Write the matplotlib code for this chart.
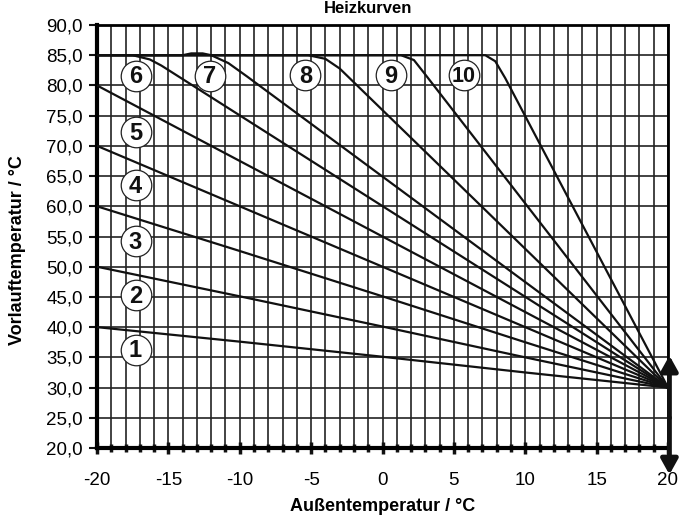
import matplotlib.pyplot as plt

plt.rcParams['font.family'] = ['Liberation Sans', 'DejaVu Sans']

# heating curves (outdoor temp -> flow temp)
curves_x = [
    [-20, -10, 0, 10, 20],
    [-20, -10, 0, 10, 20],
    [-20, -10, 0, 10, 20],
    [-20, -10, 0, 10, 20],
    [-20, -10, 0, 10, 20],
    [-20, -17.5, -16.3, -15.5, 20],
    [-20, -14.0, -13.4, -12.6, -12.0, -10.8, -9.5, 20],
    [-20, -5.2, -4.0, -3.0, 20],
    [-20, 1.3, 2.2, 3.0, 20],
    [-20, 7.2, 7.9, 8.6, 20],
]
curves_y = [
    [40, 37.6, 35.1, 32.5, 30],
    [50, 45.1, 40.1, 35.0, 30],
    [60, 52.6, 45.1, 37.5, 30],
    [70, 60.0, 50.0, 40.0, 30],
    [80, 67.5, 55.0, 42.5, 30],
    [85, 85, 84.3, 83.3, 30],
    [85, 85, 85.3, 85.3, 85, 83.7, 81.5, 30],
    [85, 85, 84.4, 82.8, 30],
    [85, 85, 84.2, 81.8, 30],
    [85, 85, 84.0, 81.2, 30],
]

# circled curve numbers
label_text = ['1', '2', '3', '4', '5', '6', '7', '8', '9', '10']
label_x = [-17.3, -17.3, -17.3, -17.3, -17.3, -17.3, -12.1, -5.4, 0.6, 5.7]
label_y = [36.3, 45.3, 54.2, 63.5, 72.3, 81.6, 81.6, 81.7, 81.7, 81.7]
label_size = [17, 17, 17, 17, 17, 17, 17, 17, 17, 15.5]

x_ticks = [-20, -15, -10, -5, 0, 5, 10, 15, 20]
y_ticks = [20, 25, 30, 35, 40, 45, 50, 55, 60, 65, 70, 75, 80, 85, 90]
y_tick_labels = ['20,0', '25,0', '30,0', '35,0', '40,0', '45,0', '50,0', '55,0',
                 '60,0', '65,0', '70,0', '75,0', '80,0', '85,0', '90,0']

fig = plt.figure(figsize=(6.79, 5.18), dpi=100)
ax = fig.add_axes([97 / 679, 70 / 518, 571 / 679, 423 / 518])

ax.set_xlim(-20, 20)
ax.set_ylim(20, 90)

# grid: every degree vertically, every 5 degrees horizontally
ax.set_xticks(range(-20, 21), minor=True)
ax.set_xticks(x_ticks)
ax.set_xticklabels([str(t) for t in x_ticks])
ax.set_yticks(y_ticks)
ax.set_yticklabels(y_tick_labels)
ax.grid(which='minor', axis='x', color='#222222', lw=1.2)
ax.grid(which='major', axis='both', color='#222222', lw=1.2)
ax.set_axisbelow(True)

ax.tick_params(axis='x', which='minor', direction='inout', length=6, width=2.5, color='#111111')
ax.tick_params(axis='x', which='major', direction='inout', length=8, width=2.5,
               color='#111111', labelsize=13.5, pad=13)
ax.tick_params(axis='y', direction='out', length=6, width=1.5, color='#111111',
               labelsize=13.5, pad=4)

for side in ['left', 'bottom']:
    ax.spines[side].set_linewidth(3)
for side in ['top', 'right']:
    ax.spines[side].set_linewidth(2)

for xs, ys in zip(curves_x, curves_y):
    ax.plot(xs, ys, color='#111111', lw=1.6, zorder=3)

for t, lx, ly, fs in zip(label_text, label_x, label_y, label_size):
    ax.plot(lx, ly, 'o', ms=22, mfc='white', mec='#222222', mew=0.9, zorder=4)
    ax.text(lx, ly - 0.2, t, ha='center', va='center', fontsize=fs, fontweight='bold',
            color='#111111', zorder=5)

# double arrow at room temperature 20 degC
ax.annotate('', xy=(20.1, 35.3), xytext=(20.1, 25), zorder=6, annotation_clip=False,
            arrowprops=dict(arrowstyle='-|>,head_length=0.9,head_width=0.5',
                            lw=3.5, color='#111111', shrinkA=0, shrinkB=0))
ax.annotate('', xy=(20.1, 15.6), xytext=(20.1, 25), zorder=6, annotation_clip=False,
            arrowprops=dict(arrowstyle='-|>,head_length=0.9,head_width=0.5',
                            lw=3.5, color='#111111', shrinkA=0, shrinkB=0))

ax.set_xlabel('Außentemperatur / °C', fontsize=13, fontweight='bold', labelpad=7)
fig.text(18 / 679, 1 - 250 / 518, 'Vorlauftemperatur / °C', rotation=90,
         ha='center', va='center', fontsize=13, fontweight='bold')
fig.text(368 / 679, 1 - 13 / 518, 'Heizkurven', ha='center', va='baseline',
         fontsize=12, fontweight='bold')

fig.savefig('out.png', dpi=100)
